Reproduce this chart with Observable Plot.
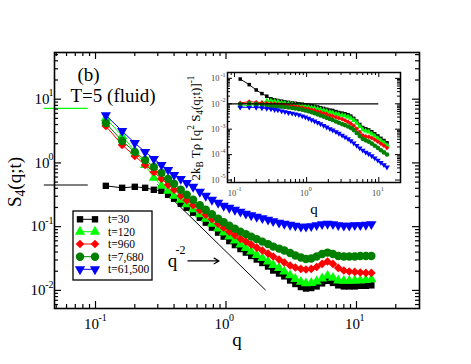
<!DOCTYPE html>
<html><head><meta charset="utf-8">
<script src="https://cdn.jsdelivr.net/npm/d3@7"></script>
<script src="https://cdn.jsdelivr.net/npm/@observablehq/plot@0.6"></script>
<style>
body{margin:0;background:#fff;}
#wrap{position:relative;width:471px;height:364px;overflow:hidden;font-family:"Liberation Serif","Times New Roman",serif;color:#000;}
.lbl{position:absolute;white-space:nowrap;line-height:1;transform:translate(-50%,-50%) rotate(-90deg);}
.lbl sub,.lbl sup{font-size:0.72em;line-height:0;}
</style></head><body><div id="wrap"></div>
<script>
// ---- data ----
const q = [0.12,0.16,0.20,0.24,0.28,0.32,0.36,0.40,0.45,0.50,0.56,0.63,0.70,0.78,0.87,0.96,1.06,1.17,1.29,1.42,1.56,1.72,1.9,2.1,2.3,2.55,2.8,3.1,3.4,3.75,4.1,4.5,4.95,5.45,6.0,6.6,7.25,8.0,8.8,9.7,10.7,11.8,13.0];
const s_t30 = [0.437,0.407,0.422,0.407,0.379,0.365,0.316,0.274,0.229,0.198,0.1655,0.138,0.1155,0.0965,0.0806,0.0698,0.0593,0.0514,0.0445,0.0392,0.0346,0.0305,0.0269,0.0237,0.0205,0.0184,0.0166,0.0143,0.0126,0.0113,0.0107,0.0109,0.01155,0.0129,0.0141,0.0131,0.012,0.01155,0.01155,0.01155,0.0118,0.0118,0.012];
const s_t120 = [5.05,2.64,1.54,0.93,0.583,0.437,0.365,0.305,0.264,0.225,0.1876,0.157,0.133,0.111,0.093,0.0806,0.0698,0.0604,0.0523,0.0461,0.0407,0.0359,0.0322,0.0284,0.025,0.0225,0.0198,0.0172,0.0151,0.0136,0.0129,0.0131,0.0138,0.0154,0.0169,0.0157,0.0143,0.0141,0.0141,0.0143,0.0143,0.0146,0.0149];
const s_t960 = [3.79,1.91,1.286,0.93,0.723,0.562,0.453,0.379,0.305,0.26,0.217,0.181,0.154,0.131,0.111,0.0965,0.0835,0.0737,0.0649,0.0583,0.0523,0.047,0.0422,0.0379,0.034,0.0305,0.0274,0.0246,0.0229,0.0217,0.0213,0.0217,0.0233,0.026,0.0284,0.026,0.0225,0.0205,0.0198,0.0195,0.0191,0.0188,0.0188];
const s_t7680 = [4.22,2.21,1.49,1.114,0.866,0.698,0.562,0.47,0.379,0.316,0.264,0.217,0.184,0.157,0.133,0.1175,0.1036,0.093,0.0835,0.0763,0.0698,0.0638,0.0583,0.0533,0.0487,0.0453,0.0422,0.0386,0.0352,0.0328,0.0311,0.0316,0.034,0.0372,0.0392,0.0372,0.0346,0.034,0.034,0.034,0.0346,0.0346,0.0346];
const s_t61500 = [5.62,3.16,2.05,1.49,1.155,0.93,0.778,0.649,0.562,0.487,0.422,0.352,0.305,0.264,0.237,0.213,0.198,0.184,0.172,0.16,0.151,0.143,0.136,0.129,0.122,0.1155,0.111,0.107,0.1036,0.1,0.1,0.102,0.1055,0.1095,0.111,0.1095,0.1055,0.1036,0.1036,0.1055,0.1055,0.107,0.1095];

const seriesNames = ["t=30","t=120","t=960","t=7,680","t=61,500"];
const seriesValues = [s_t30, s_t120, s_t960, s_t7680, s_t61500];
const seriesColors = ["#000000","#00ff00","#ff0000","#008000","#0000ff"];
const seriesSymbols = ["square","triangle","diamond2","circle","triangle"];
const seriesRotate = [0,0,0,0,180];
const seriesR = [3.6,3.8,3.9,4.2,3.8];

const slopeLineQ = [0.3, 2.0];          // q^-2 guide
const slopeLineS = [0.453, 0.0102];
const plateauGreen = 7.2;                // short level marks at left edge
const plateauBlack = 0.45;
const insetNorm = 5.9e-4;                // 2 kB T rho (inset normalisation)
const insetLevel = 0.01;

const mainXTicks = [0.1, 1, 10];
const mainYTicks = [0.01, 0.1, 1, 10];
const mainXMinor = [0.05,0.06,0.07,0.08,0.09,0.2,0.3,0.4,0.5,0.6,0.7,0.8,0.9,2,3,4,5,6,7,8,9,20];
const mainYMinor = [0.006,0.007,0.008,0.009,0.02,0.03,0.04,0.05,0.06,0.07,0.08,0.09,0.2,0.3,0.4,0.5,0.6,0.7,0.8,0.9,2,3,4,5,6,7,8,9,20,30,40,50];
const insetXTicks = [0.1, 1, 10];
const insetYTicks = [1e-5, 1e-4, 1e-3, 1e-2, 1e-1];
const insetXMinor = [0.09,0.2,0.3,0.4,0.5,0.6,0.7,0.8,0.9,2,3,4,5,6,7,8,9];
const insetYMinor = [];
[1e-5,1e-4,1e-3,1e-2,1e-1].forEach(d => [2,3,4,5,6,7,8,9].forEach(m => { if (d*m < 0.17) insetYMinor.push(d*m); }));

// ---- tables ----
const rows = [];
seriesValues.forEach((vals, k) => vals.forEach((v, j) => rows.push({k, q: q[j], s: v, inv: insetNorm / (q[j] * q[j] * v)})));
const slopeRows = slopeLineQ.map((x, i) => ({q: x, s: slopeLineS[i]}));

const expo = d => String(Math.round(Math.log10(d)));
const serif = "Liberation Serif, Times New Roman, serif";

function seriesMarks(yField, scale) {
  const out = [];
  seriesValues.forEach((_, k) => {
    const data = rows.filter(r => r.k === k);
    out.push(Plot.line(data, {x: "q", y: yField, stroke: seriesColors[k], strokeWidth: 1}));
    out.push(Plot.dot(data, {x: "q", y: yField, symbol: seriesSymbols[k], fill: seriesColors[k], stroke: "none", r: seriesR[k] * scale, rotate: seriesRotate[k]}));
  });
  return out;
}

function tickMarks(xMajor, xMinor, yMajor, yMinor, fw, fh, big, small, sw) {
  return [
    Plot.ruleX(xMajor, {x: d => d, insetTop: fh - big, strokeWidth: sw}),
    Plot.ruleX(xMajor, {x: d => d, insetBottom: fh - big, strokeWidth: sw}),
    Plot.ruleX(xMinor, {x: d => d, insetTop: fh - small, strokeWidth: sw}),
    Plot.ruleX(xMinor, {x: d => d, insetBottom: fh - small, strokeWidth: sw}),
    Plot.ruleY(yMajor, {y: d => d, insetRight: fw - big, strokeWidth: sw}),
    Plot.ruleY(yMajor, {y: d => d, insetLeft: fw - big, strokeWidth: sw}),
    Plot.ruleY(yMinor, {y: d => d, insetRight: fw - small, strokeWidth: sw}),
    Plot.ruleY(yMinor, {y: d => d, insetLeft: fw - small, strokeWidth: sw})
  ];
}

const note = (txt, fa, dx, dy, size, anchor = "middle") =>
  Plot.text([txt], {frameAnchor: fa, dx, dy, fontSize: size, textAnchor: anchor, lineAnchor: "middle", text: d => d});

// ---- main chart ----
const W = 471, H = 364, mL = 54, mR = 52, mT = 52, mB = 56;
const FW = W - mL - mR, FH = H - mT - mB;
const main = Plot.plot({
  width: W, height: H, marginLeft: mL, marginRight: mR, marginTop: mT, marginBottom: mB,
  x: {type: "log", domain: [0.0485, 30.4], label: null},
  y: {type: "log", domain: [0.0052, 54], label: null},
  style: {fontFamily: serif, background: "transparent", overflow: "visible", color: "black"},
  marks: [
    Plot.ruleY([plateauGreen], {y: d => d, x1: 0.0405, x2: 0.088, stroke: "#00ff00", strokeWidth: 1.2}),
    Plot.ruleY([plateauBlack], {y: d => d, x1: 0.0405, x2: 0.088, stroke: "#000", strokeWidth: 1.2}),
    Plot.line(slopeRows, {x: "q", y: "s", stroke: "black", strokeWidth: 1}),
    ...seriesMarks("s", 1),
    ...tickMarks(mainXTicks, mainXMinor, mainYTicks, mainYMinor, FW, FH, 7, 4, 1.2),
    Plot.frame({stroke: "black", strokeWidth: 1.6}),
    Plot.axisX(mainXTicks, {anchor: "bottom", tickSize: 0, tickPadding: 10, tickFormat: () => "10", fontSize: 15, dx: -4, label: null}),
    Plot.axisX(mainXTicks, {anchor: "bottom", tickSize: 0, tickPadding: 5, tickFormat: expo, fontSize: 10, textAnchor: "start", dx: 3, label: null}),
    Plot.axisY([0.01, 0.1], {anchor: "left", tickSize: 0, tickPadding: 9, tickFormat: () => "10", fontSize: 15, label: null}),
    Plot.axisY([1, 10], {anchor: "left", tickSize: 0, tickPadding: 5, tickFormat: () => "10", fontSize: 15, label: null}),
    Plot.axisY(mainYTicks, {anchor: "left", tickSize: 0, tickPadding: 1, tickFormat: expo, fontSize: 10, dy: -6, label: null}),
    note("q", "bottom", 0, 31, 19),
    note("(b)", "top-left", 34, 22.5, 19),
    note("T=5 (fluid)", "top-left", 16, 43, 19, "start"),
    note("q", "top-left", 118, 208, 19),
    note("-2", "top-left", 126, 197.5, 12),
    Plot.arrow([{x1: 0.511, x2: 0.884, y: 0.029}], {x1: "x1", x2: "x2", y1: "y", y2: "y", stroke: "black", strokeWidth: 1.2, headLength: 7})
  ]
});
main.style.position = "absolute"; main.style.left = "0px"; main.style.top = "0px";
const wrap = document.getElementById("wrap");
wrap.appendChild(main);

// ---- inset ----
const iW = 230, iH = 155, iL = 42, iR = 15, iT = 7, iB = 38;
const iFW = iW - iL - iR, iFH = iH - iT - iB;
const inset = Plot.plot({
  width: iW, height: iH, marginLeft: iL, marginRight: iR, marginTop: iT, marginBottom: iB,
  x: {type: "log", domain: [0.08, 20], label: null},
  y: {type: "log", domain: [8e-6, 0.17], label: null},
  style: {fontFamily: serif, background: "transparent", overflow: "visible", color: "black"},
  marks: [
    Plot.frame({fill: "white", stroke: "none"}),
    ...seriesMarks("inv", 0.55),
    Plot.ruleY([insetLevel], {y: d => d, x1: 0.08, x2: 10, stroke: "black", strokeWidth: 1.2}),
    ...tickMarks(insetXTicks, insetXMinor, insetYTicks, insetYMinor, iFW, iFH, 5, 3, 1),
    Plot.frame({stroke: "black", strokeWidth: 1.5}),
    Plot.axisX(insetXTicks, {anchor: "bottom", tickSize: 0, tickPadding: 7, tickFormat: () => "10", fontSize: 8.5, dx: -2.5, fill: "#444", label: null}),
    Plot.axisX(insetXTicks, {anchor: "bottom", tickSize: 0, tickPadding: 4, tickFormat: expo, fontSize: 6, textAnchor: "start", dx: 2, fill: "#444", label: null}),
    Plot.axisY(insetYTicks, {anchor: "left", tickSize: 0, tickPadding: 8, tickFormat: () => "10", fontSize: 8.5, fill: "#444", label: null}),
    Plot.axisY(insetYTicks, {anchor: "left", tickSize: 0, tickPadding: 2, tickFormat: expo, fontSize: 6, dy: -3.5, fill: "#444", label: null}),
    note("q", "bottom", 0, 27, 15)
  ]
});
inset.style.position = "absolute"; inset.style.left = "185px"; inset.style.top = "65px";
wrap.appendChild(inset);

// ---- legend ----
const symMap = {square: d3.symbolSquare, triangle: d3.symbolTriangle, diamond2: d3.symbolDiamond2, circle: d3.symbolCircle};
const lg = d3.create("svg").attr("width", 82).attr("height", 72)
  .style("position", "absolute").style("left", "72px").style("top", "210px");
lg.append("rect").attr("x", 1).attr("y", 1).attr("width", 79).attr("height", 69)
  .attr("fill", "white").attr("stroke", "black").attr("stroke-width", 1.3);
const rowY = [9.3, 21.7, 34, 46.7, 59.3];
seriesNames.forEach((name, k) => {
  const y = rowY[k];
  lg.append("line").attr("x1", 8).attr("x2", 23).attr("y1", y).attr("y2", y).attr("stroke", seriesColors[k]).attr("stroke-width", 1);
  [8, 23].forEach(x => {
    lg.append("path").attr("d", d3.symbol(symMap[seriesSymbols[k]], Math.PI * seriesR[k] * seriesR[k])())
      .attr("transform", `translate(${x},${y}) rotate(${seriesRotate[k]})`).attr("fill", seriesColors[k]);
  });
  lg.append("text").attr("x", 36).attr("y", y + 4).attr("font-size", 11.5).attr("font-family", serif).text(name);
});
wrap.appendChild(lg.node());

// ---- rotated axis titles ----
const yl = document.createElement("div");
yl.className = "lbl"; yl.style.left = "14px"; yl.style.top = "182px"; yl.style.fontSize = "19px";
yl.innerHTML = "S<sub>4</sub>(q;t)";
wrap.appendChild(yl);
const il = document.createElement("div");
il.className = "lbl"; il.style.left = "195px"; il.style.top = "128px"; il.style.fontSize = "13px";
il.innerHTML = "2k<sub>B</sub> T\u03c1 [q<sup>2</sup> S<sub>4</sub>(q;t)]<sup>-1</sup>";
wrap.appendChild(il);
</script></body></html>
